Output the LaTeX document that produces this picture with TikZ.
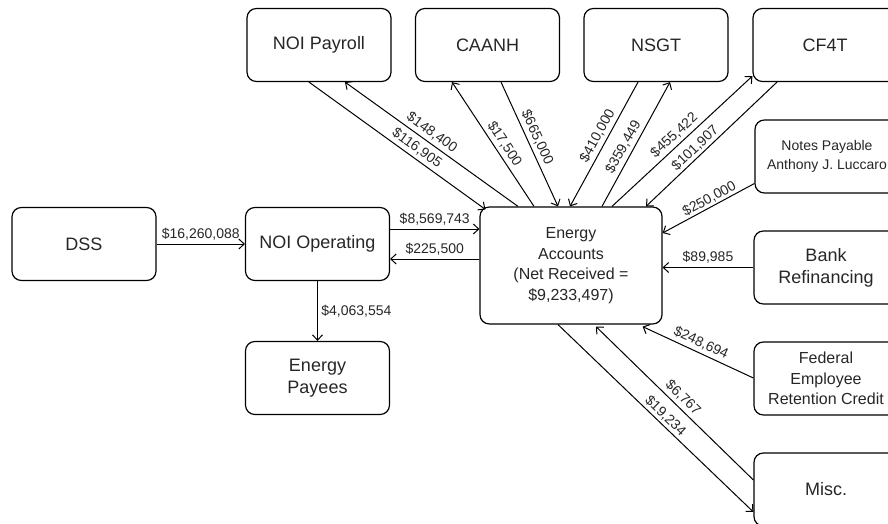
\documentclass[tikz,border=0pt]{standalone}
\usepackage{fontspec}
\setmainfont{Liberation Sans}
\usetikzlibrary{calc,arrows.meta,positioning}
\tikzset{
myBox/.style={
	rectangle,draw,rounded corners=7pt,line width=0.9pt,
	minimum width=108pt,minimum height=54.75pt,
	inner sep=2pt,align=center,text=black!85,
	font=\fontsize{13.5}{16.5}\selectfont
}
, myBigBox/.style={
	myBox,minimum width=136.5pt,minimum height=87.75pt,
	font=\fontsize{12}{15.5}\selectfont
}
, myMidText/.style={font=\fontsize{12}{15.5}\selectfont}
, mySmallText/.style={font=\fontsize{10.5}{14}\selectfont}
% link
, myLink/.style={-{Straight Barb[length=4pt,width=7.5pt]},line width=0.75pt}
, myAmount/.style={font=\fontsize{10.5}{12}\selectfont,inner sep=2.5pt,text=black!85}
}

\begin{document}
\begin{tikzpicture}[x=0.75pt,y=-0.75pt]
	\useasboundingbox (0,0) rectangle (888,524);
	\clip (0,0) rectangle (888,524);
	% nodes
	\node[myBox] (NOIPayroll) at (319,45) {NOI Payroll};
	\node[myBox] (CAANH) at (487.5,45) {CAANH};
	\node[myBox] (NSGT) at (656,45) {NSGT};
	\node[myBox] (CFFourT) at (825,45) {CF4T};
	\node[myBox,mySmallText] (NotesPayable) at (827,156.5) {Notes Payable\\Anthony J. Luccaro};
	\node[myBox] (DSS) at (84,244) {DSS};
	\node[myBox] (NOIOperating) at (317.5,244) {NOI Operating};
	\node[myBox] (EnergyPayees) at (317.5,378) {Energy\\Payees};
	\node[myBigBox] (EnergyAccounts) at (571,265.5) {Energy\\Accounts\\(Net Received =\\\$9,233,497)};
	\node[myBox] (BankRefinancing) at (826,267.5) {Bank\\Refinancing};
	\node[myBox,myMidText] (FederalCredit) at (826,378.5) {Federal\\Employee\\Retention Credit};
	\node[myBox] (Misc) at (826,489.5) {Misc.};

	% left side
	\draw [myLink] (DSS.east) -- node[myAmount,above] {\$16,260,088} (NOIOperating.west);
	\draw [myLink] ($(NOIOperating.east)+(0,-15)$) -- node[myAmount,above] {\$8,569,743} ($(NOIOperating.east -| EnergyAccounts.west)+(0,-15)$);
	\draw [myLink] ($(NOIOperating.east -| EnergyAccounts.west)+(0,15)$) -- node[myAmount,above] {\$225,500} ($(NOIOperating.east)+(0,15)$);
	\draw [myLink] (NOIOperating.south) -- node[myAmount,right] {\$4,063,554} (EnergyPayees.north);

	% top links
	\draw [myLink] ($(NOIPayroll.south)+(-10,0)$) -- node[myAmount,sloped,above,pos=0.58] {\$116,905} ($(EnergyAccounts.north west)+(6,3)$);
	\draw [myLink] ($(EnergyAccounts.north)+(-53,0)$) -- node[myAmount,sloped,above,pos=0.53] {\$148,400} ($(NOIPayroll.south)+(26,0)$);
	\draw [myLink] ($(EnergyAccounts.north)+(-37,0)$) -- node[myAmount,sloped,above,pos=0.46] {\$17,500} ($(CAANH.south)+(-35.5,0)$);
	\draw [myLink] ($(CAANH.south)+(13.5,0)$) -- node[myAmount,sloped,above,pos=0.48] {\$665,000} ($(EnergyAccounts.north)+(-13,0)$);
	\draw [myLink] ($(NSGT.south)+(-18,0)$) -- node[myAmount,sloped,above,pos=0.47] {\$410,000} ($(EnergyAccounts.north)+(-1,0)$);
	\draw [myLink] ($(EnergyAccounts.north)+(31,0)$) -- node[myAmount,sloped,above,pos=0.44] {\$359,449} ($(NSGT.south)+(14,0)$);
	\draw [myLink] ($(EnergyAccounts.north)+(41,0)$) -- node[myAmount,sloped,above,pos=0.49] {\$455,422} ($(CFFourT.south west)+(0,-6)$);
	\draw [myLink] ($(CFFourT.south)+(-48,0)$) -- node[myAmount,sloped,above,pos=0.58,inner sep=1.5pt] {\$101,907} ($(EnergyAccounts.north)+(75,0)$);

	% right links
	\draw [myLink] ($(NotesPayable.west)+(0,27)$) -- node[myAmount,sloped,above,pos=0.45,inner sep=1pt] {\$250,000} ($(EnergyAccounts.east)+(0,-32.5)$);
	\draw [myLink] (BankRefinancing.west) -- node[myAmount,above] {\$89,985} (BankRefinancing.west -| EnergyAccounts.east);
	\draw [myLink] ($(FederalCredit.west)+(0,-0.5)$) -- node[myAmount,sloped,above,pos=0.51] {\$248,694} ($(EnergyAccounts.south east)+(-20,2)$);
	\draw [myLink] ($(Misc.west)+(0,-9.5)$) -- node[myAmount,sloped,above,pos=0.49] {\$6,767} ($(EnergyAccounts.south)+(25,2)$);
	\draw [myLink] ($(EnergyAccounts.south)+(-13,0)$) -- node[myAmount,sloped,above,pos=0.52,inner sep=1.5pt] {\$19,234} ($(Misc.west)+(0,22.5)$);
\end{tikzpicture}
\end{document}
